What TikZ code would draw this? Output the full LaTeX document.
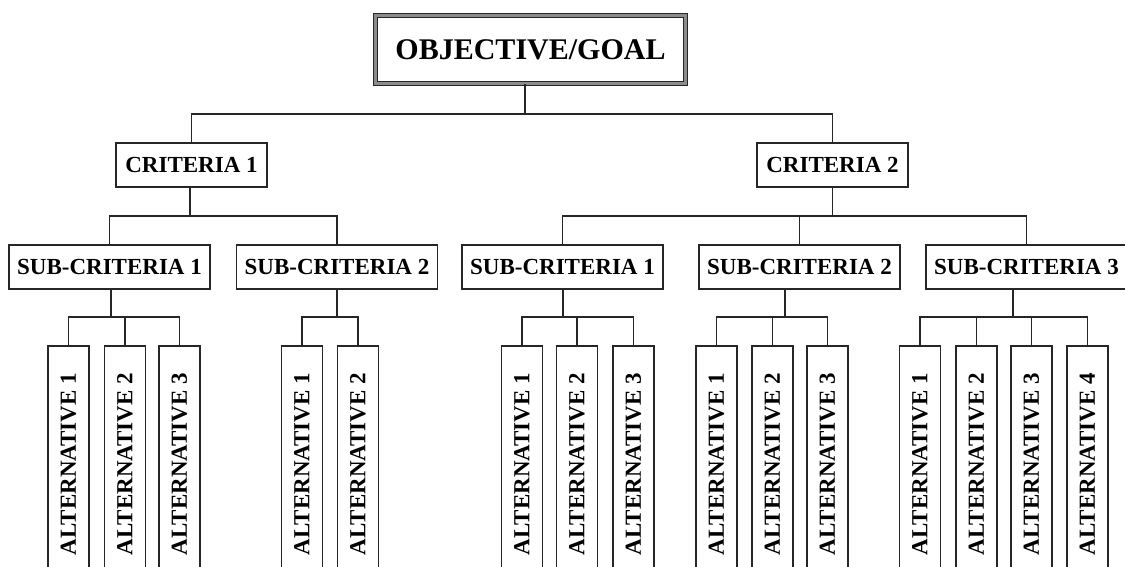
\documentclass[tikz,border=0pt]{standalone}
\usepackage{fontspec}
\setmainfont{Liberation Serif}
\begin{document}
\begin{tikzpicture}[x=1pt,y=-1pt,
  box/.style={draw=black!85,line width=1.3pt,inner sep=0pt,fill=white,font=\bfseries\fontsize{23}{26}\selectfont},
  crit/.style={box,minimum width=151pt,minimum height=44pt},
  subbox/.style={box,minimum width=201pt,minimum height=44pt},
  alt/.style={box,rotate=90,minimum width=236pt,minimum height=41pt},
  link/.style={draw=black!85,line width=1.3pt}]
\useasboundingbox (0,0) rectangle (1125,567);
\clip (0,0) rectangle (1125,567);
% goal
\node[box,line width=1.2pt,double=black!45,double distance=2.4pt,minimum width=310pt,minimum height=68pt,
  font=\bfseries\fontsize{30}{34}\selectfont] (goal) at (530.5,49.5) {OBJECTIVE/GOAL};
% criteria
\node[crit] (c1) at (191.5,165) {CRITERIA 1};
\node[crit] (c2) at (832.5,165) {CRITERIA 2};
% sub-criteria
\node[subbox] (s1) at (109.5,267) {SUB-CRITERIA 1};
\node[subbox] (s2) at (337,267) {SUB-CRITERIA 2};
\node[subbox] (s3) at (562.5,267) {SUB-CRITERIA 1};
\node[subbox] (s4) at (799.5,267) {SUB-CRITERIA 2};
\node[subbox] (s5) at (1026.5,267) {SUB-CRITERIA 3};
% alternatives
\node[alt] (a11) at (68.5,464) {ALTERNATIVE 1};
\node[alt] (a12) at (125,464) {ALTERNATIVE 2};
\node[alt] (a13) at (179.5,464) {ALTERNATIVE 3};
\node[alt] (a21) at (302,464) {ALTERNATIVE 1};
\node[alt] (a22) at (358,464) {ALTERNATIVE 2};
\node[alt] (a31) at (522,464) {ALTERNATIVE 1};
\node[alt] (a32) at (577,464) {ALTERNATIVE 2};
\node[alt] (a33) at (633.5,464) {ALTERNATIVE 3};
\node[alt] (a41) at (716.5,464) {ALTERNATIVE 1};
\node[alt] (a42) at (772.5,464) {ALTERNATIVE 2};
\node[alt] (a43) at (827.5,464) {ALTERNATIVE 3};
\node[alt] (a51) at (920,464) {ALTERNATIVE 1};
\node[alt] (a52) at (976.5,464) {ALTERNATIVE 2};
\node[alt] (a53) at (1031.5,464) {ALTERNATIVE 3};
\node[alt] (a54) at (1087.5,464) {ALTERNATIVE 4};
% junctions
\coordinate (j0) at (525,114);
\coordinate (j1) at (190,216);
\coordinate (j2) at (832.5,216);
\coordinate (k1) at (111,317);
\coordinate (k2) at (337,317);
\coordinate (k3) at (563,317);
\coordinate (k4) at (785,317);
\coordinate (k5) at (1013,317);
% connectors
\draw[link] (goal.south -| j0) -- (j0);
\draw[link] (c1.north) |- (j0) -| (c2.north);
\draw[link] (c1.south -| j1) -- (j1);
\draw[link] (s1.north) |- (j1) -| (s2.north);
\draw[link] (c2.south) -- (j2);
\draw[link] (s3.north) |- (j2) -| (s5.north);
\draw[link] (s4.north) -- (s4.north |- j2);
\draw[link] (s1.south -| k1) -- (k1);
\draw[link] (a11.east) |- (k1) -| (a13.east);
\draw[link] (a12.east) -- (a12.east |- k1);
\draw[link] (s2.south -| k2) -- (k2);
\draw[link] (a21.east) |- (k2) -| (a22.east);
\draw[link] (s3.south -| k3) -- (k3);
\draw[link] (a31.east) |- (k3) -| (a33.east);
\draw[link] (a32.east) -- (a32.east |- k3);
\draw[link] (s4.south -| k4) -- (k4);
\draw[link] (a41.east) |- (k4) -| (a43.east);
\draw[link] (a42.east) -- (a42.east |- k4);
\draw[link] (s5.south -| k5) -- (k5);
\draw[link] (a51.east) |- (k5) -| (a54.east);
\draw[link] (a52.east) -- (a52.east |- k5);
\draw[link] (a53.east) -- (a53.east |- k5);
\end{tikzpicture}
\end{document}
